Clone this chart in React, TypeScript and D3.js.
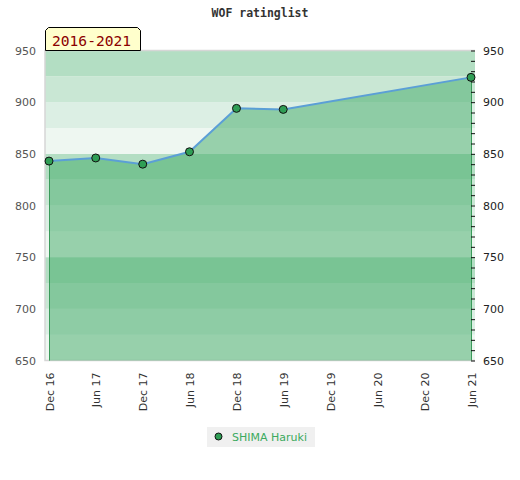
import React, { useEffect, useRef } from 'react';
import * as d3 from 'd3';

const periods = ['2016-12', '2017-06', '2017-12', '2018-06', '2018-12', '2019-06', '2021-06'];
const ratings = [843, 846, 840, 852, 894, 893, 924];
const tickMonths = ['2016-12', '2017-06', '2017-12', '2018-06', '2018-12', '2019-06', '2019-12', '2020-06', '2020-12', '2021-06'];
const tickLabels = ['Dec 16', 'Jun 17', 'Dec 17', 'Jun 18', 'Dec 18', 'Jun 19', 'Dec 19', 'Jun 20', 'Dec 20', 'Jun 21'];
const playerName = 'SHIMA Haruki';
const rangeLabel = '2016-2021';
const bandColors = ['#b3dec3', '#c9e7d4', '#dcefe4', '#eef7f1'];

const parse = d3.timeParse('%Y-%m');

const App: React.FC = () => {
  const svgRef = useRef<SVGSVGElement>(null);

  useEffect(() => {
    const svg = d3.select(svgRef.current);
    svg.selectAll('*').remove();

    const plot = { left: 45, right: 475, top: 50.5, bottom: 360.5 };
    const data = periods.map((p, i) => ({ date: parse(p)!, value: ratings[i] }));

    const x = d3.scaleTime()
      .domain([parse(tickMonths[0])!, parse(tickMonths[tickMonths.length - 1])!])
      .range([49, 471]);
    const y = d3.scaleLinear().domain([650, 950]).range([plot.bottom, plot.top]);

    // background bands, 25 points each, 100-point cycle
    const bands = d3.range(650, 950, 25);
    svg.append('g').selectAll('rect')
      .data(bands)
      .enter().append('rect')
      .attr('x', plot.left)
      .attr('width', plot.right - plot.left)
      .attr('y', d => y(d + 25))
      .attr('height', d => y(d) - y(d + 25))
      .attr('fill', d => bandColors[((950 - (d + 25)) / 25) % 4]);

    // border
    svg.append('path')
      .attr('d', `M${plot.right},${plot.top}H${plot.left}V${plot.bottom}H${plot.right}`)
      .attr('fill', 'none')
      .attr('stroke', '#d6d6d6')
      .attr('stroke-width', 1.5);

    const area = d3.area<{ date: Date; value: number }>()
      .x(d => x(d.date))
      .y0(plot.bottom)
      .y1(d => y(d.value));
    svg.append('path')
      .datum(data)
      .attr('d', area)
      .attr('fill', '#40a966')
      .attr('fill-opacity', 0.5);

    const first = data[0];
    const last = data[data.length - 1];
    [first, last].forEach(d => {
      svg.append('line')
        .attr('x1', Math.round(x(d.date)) + 0.5).attr('x2', Math.round(x(d.date)) + 0.5)
        .attr('y1', y(d.value)).attr('y2', plot.bottom)
        .attr('stroke', '#3a9a5a');
    });

    const line = d3.line<{ date: Date; value: number }>()
      .x(d => x(d.date))
      .y(d => y(d.value));
    svg.append('path')
      .datum(data)
      .attr('d', line)
      .attr('fill', 'none')
      .attr('stroke', '#5b9fd6')
      .attr('stroke-width', 2);

    svg.append('g').selectAll('circle')
      .data(data)
      .enter().append('circle')
      .attr('cx', d => x(d.date))
      .attr('cy', d => y(d.value))
      .attr('r', 4)
      .attr('fill', '#2f9e55')
      .attr('stroke', '#111')
      .attr('stroke-width', 1);

    // left axis
    const left = svg.append('g')
      .attr('transform', `translate(${plot.left},0)`)
      .call(d3.axisLeft(y).tickValues(d3.range(650, 951, 50)).tickSize(0).tickPadding(9));
    left.select('.domain').remove();
    left.selectAll('text')
      .attr('fill', '#555')
      .style('font-family', 'DejaVu Sans')
      .style('font-size', '11px');

    // right axis with minor ticks
    const right = svg.append('g')
      .attr('transform', `translate(471,0)`)
      .call(d3.axisRight(y)
        .tickValues(d3.range(650, 951, 10))
        .tickSize(4)
        .tickPadding(8)
        .tickFormat(d => (+d % 50 === 0 ? String(d) : '')));
    right.select('.domain').remove();
    right.selectAll('line').attr('stroke', '#111');
    right.selectAll('text')
      .attr('fill', '#222')
      .style('font-family', 'DejaVu Sans')
      .style('font-size', '11px');

    // bottom axis, rotated labels
    const bottom = svg.append('g')
      .attr('transform', `translate(0,${plot.bottom})`)
      .call(d3.axisBottom(x)
        .tickValues(tickMonths.map(m => parse(m)!))
        .tickSize(0)
        .tickFormat((_, i) => tickLabels[i]));
    bottom.select('.domain').remove();
    bottom.selectAll('text')
      .attr('y', 0)
      .attr('dy', 0)
      .attr('transform', 'translate(4,12) rotate(-90)')
      .attr('text-anchor', 'end')
      .attr('fill', '#333')
      .style('font-family', 'DejaVu Sans')
      .style('font-size', '11px');

    // title
    svg.append('text')
      .attr('x', 260).attr('y', 17)
      .attr('text-anchor', 'middle')
      .attr('fill', '#333')
      .style('font-family', 'DejaVu Sans Mono')
      .style('font-weight', 'bold')
      .style('font-size', '11.5px')
      .text('WOF ratinglist');

    // period tag
    svg.append('path')
      .attr('d', 'M45.5,50.5V30.5L48.5,27.5H137.5L140.5,30.5V50.5Z')
      .attr('fill', '#ffffcc')
      .attr('stroke', '#000');
    svg.append('text')
      .attr('x', 52).attr('y', 45.5)
      .attr('fill', '#8b0000')
      .style('font-family', 'DejaVu Sans Mono')
      .style('font-size', '14.6px')
      .text(rangeLabel);

    // legend
    const legend = svg.append('g');
    legend.append('rect')
      .attr('x', 207).attr('y', 427).attr('width', 108).attr('height', 20)
      .attr('fill', '#f0f0f0');
    legend.append('circle')
      .attr('cx', 218.5).attr('cy', 436.5).attr('r', 3.5)
      .attr('fill', '#2f9e55').attr('stroke', '#111');
    legend.append('text')
      .attr('x', 232).attr('y', 440.5)
      .attr('fill', '#3caa5e')
      .style('font-family', 'DejaVu Sans')
      .style('font-size', '11px')
      .text(playerName);
  }, []);

  return (
    <div style={{ position: 'absolute', left: 0, top: 0 }}>
      <svg ref={svgRef} width={520} height={480} style={{ display: 'block', background: '#fff' }}></svg>
    </div>
  );
};

export default App;
